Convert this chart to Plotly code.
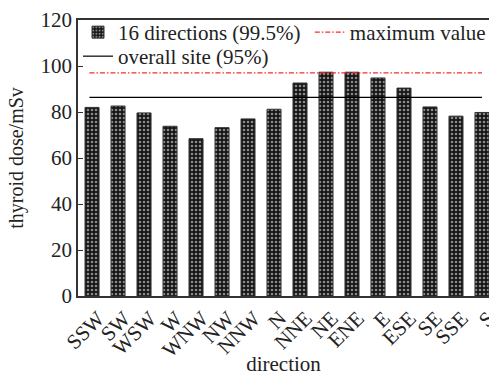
import plotly.graph_objects as go

directions = ["SSW", "SW", "WSW", "W", "WNW", "NW", "NNW", "N",
              "NNE", "NE", "ENE", "E", "ESE", "SE", "SSE", "S"]
dose_16dir = [82.0, 82.6, 79.6, 73.8, 68.4, 73.2, 77.0, 81.2,
              92.6, 97.3, 97.3, 94.8, 90.4, 82.2, 78.2, 79.8]
max_value = 97.0
overall_site = 86.4
y_ticks = [0, 20, 40, 60, 80, 100, 120]

serif = "Liberation Serif"
x_idx = list(range(len(directions)))
line_x = [-0.1, len(directions) - 1]

fig = go.Figure()
fig.add_trace(go.Bar(
    x=x_idx, y=dose_16dir, width=0.54, name="16 directions (99.5%)",
    legend="legend",
    marker=dict(color="#111",
                line=dict(color="#333", width=1),
                pattern=dict(shape=".", fgcolor="white", bgcolor="#151515",
                             size=4, solidity=0.33)),
))
fig.add_trace(go.Scatter(
    x=line_x, y=[max_value, max_value], mode="lines", name="maximum value",
    legend="legend2",
    line=dict(color="#ff2a2a", width=1.2, dash="5px,2px,1.5px,2px"),
))
fig.add_trace(go.Scatter(
    x=line_x, y=[overall_site, overall_site], mode="lines",
    name="overall site (95%)", legend="legend3",
    line=dict(color="black", width=1.2),
))

legend_common = dict(xanchor="left", yanchor="top", bgcolor="rgba(0,0,0,0)",
                     font=dict(family=serif, size=21, color="#222"),
                     itemwidth=30, borderwidth=0)

fig.update_layout(
    width=489, height=376,
    margin=dict(l=78, r=0, t=20, b=80, autoexpand=False),
    paper_bgcolor="white", plot_bgcolor="white",
    font=dict(family=serif, size=20, color="#222"),
    showlegend=True,
    legend=dict(x=0.0, y=1.029, **legend_common),
    legend2=dict(x=0.564, y=1.029, **legend_common),
    legend3=dict(x=0.0, y=0.942, **legend_common),
)
fig.update_xaxes(
    range=[-0.54, 15.27], tickvals=x_idx, ticktext=directions,
    tickangle=-45, showgrid=False, zeroline=False,
    showline=True, linecolor="#333", linewidth=1.5, mirror=True,
    ticks="", tickfont=dict(family=serif, size=21),
    ticklabeloverflow="allow", ticklabelshift=6, automargin=False,
    title=dict(text="direction", font=dict(family=serif, size=21), standoff=12),
)
fig.update_yaxes(
    range=[0, 120], tickvals=y_ticks, showgrid=False, zeroline=False,
    showline=True, linecolor="#333", linewidth=1.5,
    ticks="inside", ticklen=5, tickcolor="#333",
    tickfont=dict(family=serif, size=21), automargin=False,
    title=dict(text="thyroid dose/mSv", font=dict(family=serif, size=20), standoff=12),
)

fig.write_html("out.html")
